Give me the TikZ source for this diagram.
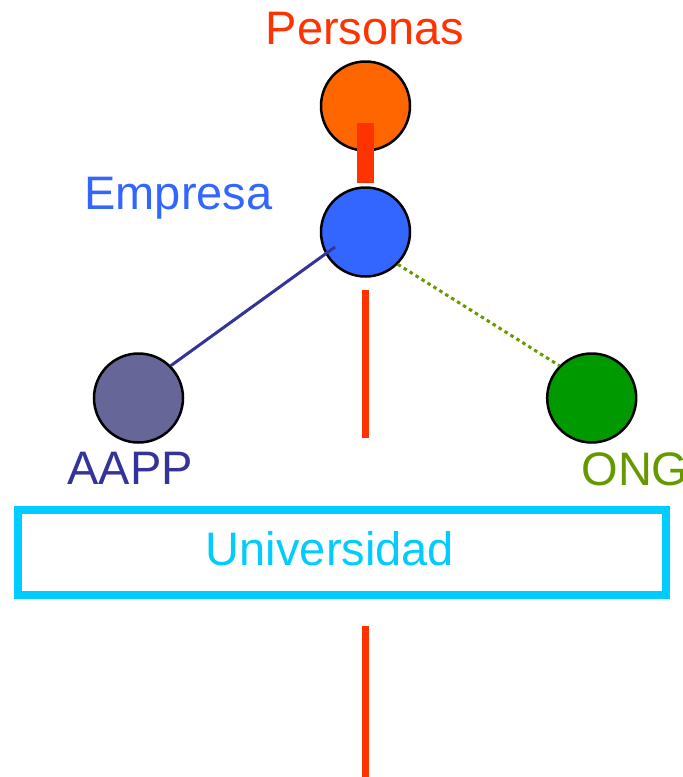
\documentclass[tikz,border=0pt]{standalone}
\usepackage{fontspec}
\setmainfont{Liberation Sans}
\definecolor{persred}{HTML}{FF3300}
\definecolor{persorange}{HTML}{FF6600}
\definecolor{empblue}{HTML}{3366FF}
\definecolor{aappfill}{HTML}{666699}
\definecolor{aappdark}{HTML}{333399}
\definecolor{ongfill}{HTML}{009900}
\definecolor{ongtext}{HTML}{669900}
\definecolor{univcyan}{HTML}{00CCFF}
\begin{document}
\begin{tikzpicture}[x=1pt,y=-1pt,
  ball/.style={circle,draw=black,line width=2.5pt,minimum size=89pt,inner sep=0pt},
  lbl/.style={anchor=base,inner sep=0pt,font=\fontsize{47}{56}\selectfont},
  redbar/.style={draw=persred,line width=7pt}]
\useasboundingbox (0,0) rectangle (683,777);
% circles
\node[ball,fill=persorange] (personas) at (365.5,106) {};
\node[ball,fill=empblue] (empresa) at (365.5,232) {};
\node[ball,fill=aappfill] (aapp) at (138.5,398) {};
\node[ball,fill=ongfill] (ong) at (591.7,398) {};
% labels
\node[lbl,text=persred] (tpers) at (365,44) {Personas};
\node[lbl,text=empblue] (temp) at (178.5,209) {Empresa};
\node[lbl,text=aappdark] (taapp) at (130,484) {AAPP};
\node[lbl,text=ongtext] (tong) at (635,485) {ONG};
% universidad
\node[draw=univcyan,line width=8pt,minimum width=648pt,minimum height=85pt,inner sep=0pt] (univ) at (342,552.5) {};
\node[lbl,text=univcyan] (tuniv) at (330,565) {Universidad};
% connectors
\coordinate (p1) at (365.5,123);
\coordinate (p2) at (365.5,183);
\draw[persred,line width=17pt] (p1) -- (p2);
\coordinate (aend) at (335,247);
\draw[aappdark,line width=3pt] (aapp.45) -- (aend);
\draw[ongtext,line width=3pt,dash pattern=on 3.5pt off 3.5pt] (empresa.-45) -- (ong.135);
\coordinate (m1) at (365,290);
\coordinate (m2) at (365,438);
\draw[redbar] (m1) -- (m2);
\coordinate (b1) at (365,626);
\coordinate (b2) at (365,777);
\draw[redbar] (b1) -- (b2);
\end{tikzpicture}
\end{document}
